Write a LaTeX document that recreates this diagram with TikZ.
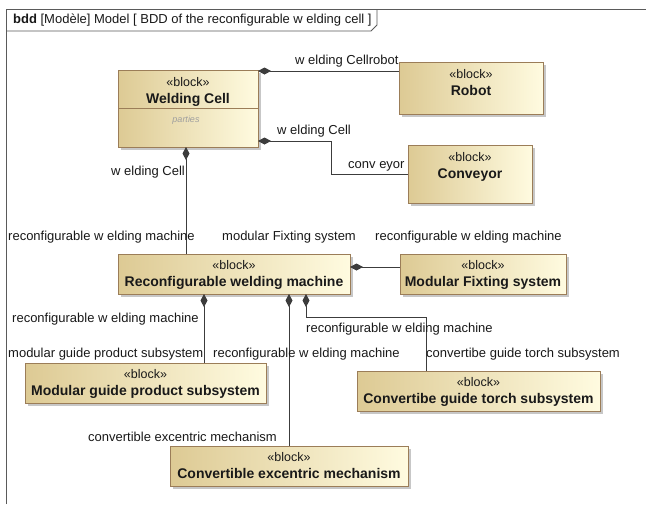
\documentclass[tikz,border=0pt]{standalone}
\usepackage{fontspec}
\setmainfont{Liberation Sans}
\usetikzlibrary{arrows.meta,shadows,calc}
\definecolor{tanL}{RGB}{221,202,148}
\definecolor{tanR}{RGB}{255,251,224}
\definecolor{bord}{RGB}{155,125,88}
\definecolor{linec}{RGB}{60,60,60}
\definecolor{txt}{RGB}{25,25,25}
\definecolor{framec}{RGB}{90,90,90}
\begin{document}
\begin{tikzpicture}[x=1pt,y=-1pt,
  blk/.style={draw=bord, line width=0.8pt, left color=tanL, right color=tanR,
    drop shadow={shadow xshift=3pt, shadow yshift=-3pt, fill=black, opacity=0.22},
    inner sep=0pt, outer sep=0pt},
  btext/.style={align=center, text=txt, inner sep=0pt, anchor=north,
    font=\fontsize{12.5}{17.5}\selectfont},
  lbl/.style={font=\fontsize{13}{15}\selectfont, text=txt, inner sep=0pt, anchor=west},
  comp/.style={draw=linec, line width=0.8pt,
    {Diamond[length=13pt,width=7pt,fill=linec]}-}
]
\useasboundingbox (0,0) rectangle (646,504);
\fill[white] (0,0) rectangle (646,504);

% frame
\draw[framec, line width=0.8pt] (6,504) -- (6,9) -- (646,9);
\draw[framec, line width=0.8pt] (6,31) -- (371,31) -- (377,25) -- (377,9);
\node[lbl, text=txt] (title) at (13,20) {\textbf{bdd} [Modèle] Model [ BDD of the reconfigurable w elding cell ]};

% blocks
\node[blk, minimum width=140pt, minimum height=77pt] (wc) at (188,108.5) {};
\draw[bord, line width=0.8pt] ([yshift=-38pt]wc.north west) -- ([yshift=-38pt]wc.north east);
\node[btext] (wcT) at ([yshift=-7pt]wc.north) {«block»\\{\fontsize{14}{17.5}\selectfont\bfseries Welding Cell}};
\node[font=\fontsize{9}{10}\selectfont\itshape, text=gray!75, inner sep=0pt] (wcP) at (186,120) {parties};

\node[blk, minimum width=144pt, minimum height=52pt] (robot) at (471,88) {};
\node[btext] (robotT) at ([yshift=-7pt]robot.north) {«block»\\{\fontsize{14}{17.5}\selectfont\bfseries Robot}};

\node[blk, minimum width=124pt, minimum height=58pt] (conv) at (470,174) {};
\node[btext] (convT) at ([yshift=-7pt]conv.north) {«block»\\{\fontsize{14}{17.5}\selectfont\bfseries Conveyor}};

\node[blk, minimum width=232pt, minimum height=40pt] (rwm) at (234,274) {};
\node[btext] (rwmT) at ([yshift=-6pt]rwm.north) {«block»\\{\fontsize{14}{17.5}\selectfont\bfseries Reconfigurable welding machine}};

\node[blk, minimum width=166pt, minimum height=40pt] (mfs) at (483,274) {};
\node[btext] (mfsT) at ([yshift=-6pt]mfs.north) {«block»\\{\fontsize{14}{17.5}\selectfont\bfseries Modular Fixting system}};

\node[blk, minimum width=241pt, minimum height=40pt] (mgp) at (145.5,383) {};
\node[btext] (mgpT) at ([yshift=-6pt]mgp.north) {«block»\\{\fontsize{14}{17.5}\selectfont\bfseries Modular guide product subsystem}};

\node[blk, minimum width=243pt, minimum height=40pt] (cgt) at (478.5,391) {};
\node[btext] (cgtT) at ([yshift=-6pt]cgt.north) {«block»\\{\fontsize{14}{17.5}\selectfont\bfseries Convertibe guide torch subsystem}};

\node[blk, minimum width=238pt, minimum height=40pt] (cem) at (289,466) {};
\node[btext] (cemT) at ([yshift=-6pt]cem.north) {«block»\\{\fontsize{14}{17.5}\selectfont\bfseries Convertible excentric mechanism}};

% connectors
\draw[comp] ([yshift=-1pt]wc.north east) -- ([yshift=-1pt]wc.north east -| robot.west);
\draw[comp] ([yshift=6pt]wc.south east) -- ++(73,0) |- (conv.west);
\draw[comp] ([xshift=-2pt]wc.south) -- ([xshift=-2pt]wc.south |- rwm.north);
\draw[comp] ([yshift=7pt]rwm.east) -- ([yshift=7pt]rwm.east -| mfs.west);
\draw[comp] ([xshift=-30pt]rwm.south) -- ([xshift=-30pt]rwm.south |- mgp.north);
\draw[comp] ([xshift=55pt]rwm.south) -- ([xshift=55pt]rwm.south |- cem.north);
\draw[comp] ([xshift=72pt]rwm.south) -- ++(0,23) -| ([xshift=-52.5pt]cgt.north);

% labels
\node[lbl] (l1) at (295,61) {w elding Cellrobot};
\node[lbl] (l2) at (277,131) {w elding Cell};
\node[lbl] (l3) at (348,166) {conv eyor};
\node[lbl] (l4) at (111,172) {w elding Cell};
\node[lbl] (l5) at (8,237) {reconfigurable w elding machine};
\node[lbl] (l6) at (222,237) {modular Fixting system};
\node[lbl] (l7) at (375,237) {reconfigurable w elding machine};
\node[lbl] (l8) at (12,319) {reconfigurable w elding machine};
\node[lbl] (l9) at (8,354) {modular guide product subsystem};
\node[lbl] (l10) at (213,354) {reconfigurable w elding machine};
\node[lbl] (l11) at (306,329) {reconfigurable w elding machine};
\node[lbl] (l12) at (426,354) {convertibe guide torch subsystem};
\node[lbl] (l13) at (88,437) {convertible excentric mechanism};
\end{tikzpicture}
\end{document}
